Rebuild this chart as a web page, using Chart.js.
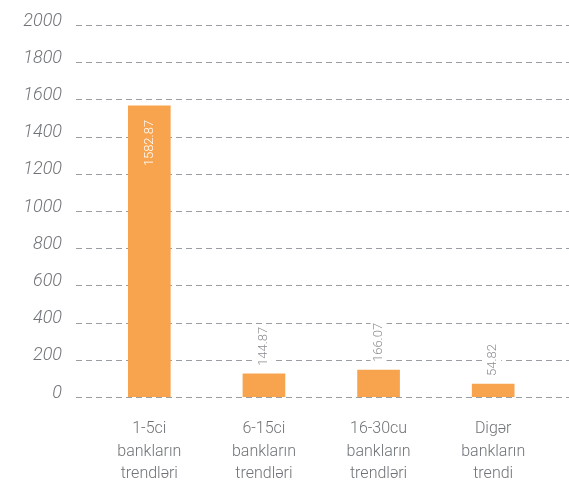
<!DOCTYPE html>
<html>
<head>
<meta charset="utf-8">
<script src="https://cdn.jsdelivr.net/npm/chart.js@4/dist/chart.umd.min.js"></script>
<style>
html,body{margin:0;padding:0;background:#fff;}
#wrap{width:569px;height:485px;position:relative;}
</style>
</head>
<body>
<div id="wrap"><canvas id="c" width="569" height="485"></canvas></div>
<script>
const categories = [
  ["1-5ci", "bankların", "trendləri"],
  ["6-15ci", "bankların", "trendləri"],
  ["16-30cu", "bankların", "trendləri"],
  ["Digər", "bankların", "trendi"]
];
const barValues = [1565, 124, 145, 70];
const valueLabels = ["1582.87", "144.87", "166.07", "54.82"];
const yMin = 0, yMax = 2000, yStep = 200;

const gridPlugin = {
  id: 'dashGrid',
  beforeDatasetsDraw(chart) {
    const ctx = chart.ctx, y = chart.scales.y;
    ctx.save();
    ctx.strokeStyle = '#9a9da1';
    ctx.lineWidth = 1;
    ctx.setLineDash([6, 4]);
    y.ticks.forEach((t, i) => {
      const py = Math.round(y.getPixelForTick(i)) + 0.5;
      ctx.beginPath();
      ctx.moveTo(76, py);
      ctx.lineTo(569, py);
      ctx.stroke();
    });
    ctx.restore();
  }
};

const labelPlugin = {
  id: 'valLabels',
  afterDatasetsDraw(chart) {
    const ctx = chart.ctx;
    const meta = chart.getDatasetMeta(0);
    ctx.save();
    ctx.font = '300 13px Roboto, "Open Sans", sans-serif';
    ctx.textBaseline = 'middle';
    meta.data.forEach((bar, i) => {
      ctx.save();
      ctx.translate(bar.x, bar.y);
      ctx.rotate(-Math.PI / 2);
      const w = ctx.measureText(valueLabels[i]).width;
      if (i === 0) {
        ctx.fillStyle = '#ffffff';
        ctx.textAlign = 'right';
        ctx.fillText(valueLabels[i], -14, 0);
      } else {
        ctx.fillStyle = '#ffffff';
        ctx.fillRect(6, -8, w + 4, 16);
        ctx.fillStyle = '#8a8d91';
        ctx.textAlign = 'left';
        ctx.fillText(valueLabels[i], 8, 0);
      }
      ctx.restore();
    });
    ctx.restore();
  }
};

new Chart(document.getElementById('c'), {
  type: 'bar',
  data: {
    labels: categories,
    datasets: [{
      data: barValues,
      backgroundColor: '#f8a44f',
      borderWidth: 0,
      barThickness: 42
    }]
  },
  options: {
    responsive: false,
    animation: false,
    layout: { padding: { top: 25, right: 18.5, left: 0, bottom: 0 } },
    plugins: { legend: { display: false }, tooltip: { enabled: false } },
    scales: {
      x: {
        grid: { display: false, drawTicks: false },
        border: { display: false },
        ticks: {
          color: '#6f7377',
          font: { family: 'Roboto, "Open Sans", sans-serif', size: 16, weight: 300, lineHeight: 1.4 },
          padding: 21,
          maxRotation: 0,
          autoSkip: false
        },
        afterFit(s) { s.height = 88; }
      },
      y: {
        min: yMin, max: yMax,
        grid: { display: false, drawTicks: false },
        border: { display: false },
        ticks: {
          stepSize: yStep,
          color: '#707479',
          font: { family: 'Roboto, "Open Sans", sans-serif', size: 18, style: 'italic', weight: 300 },
          padding: 30,
          labelOffset: -4,
          callback: (v) => String(v)
        },
        afterFit(s) { s.width = 92; s.paddingTop = 0; s.paddingBottom = 0; }
      }
    }
  },
  plugins: [gridPlugin, labelPlugin]
});
</script>
</body>
</html>
